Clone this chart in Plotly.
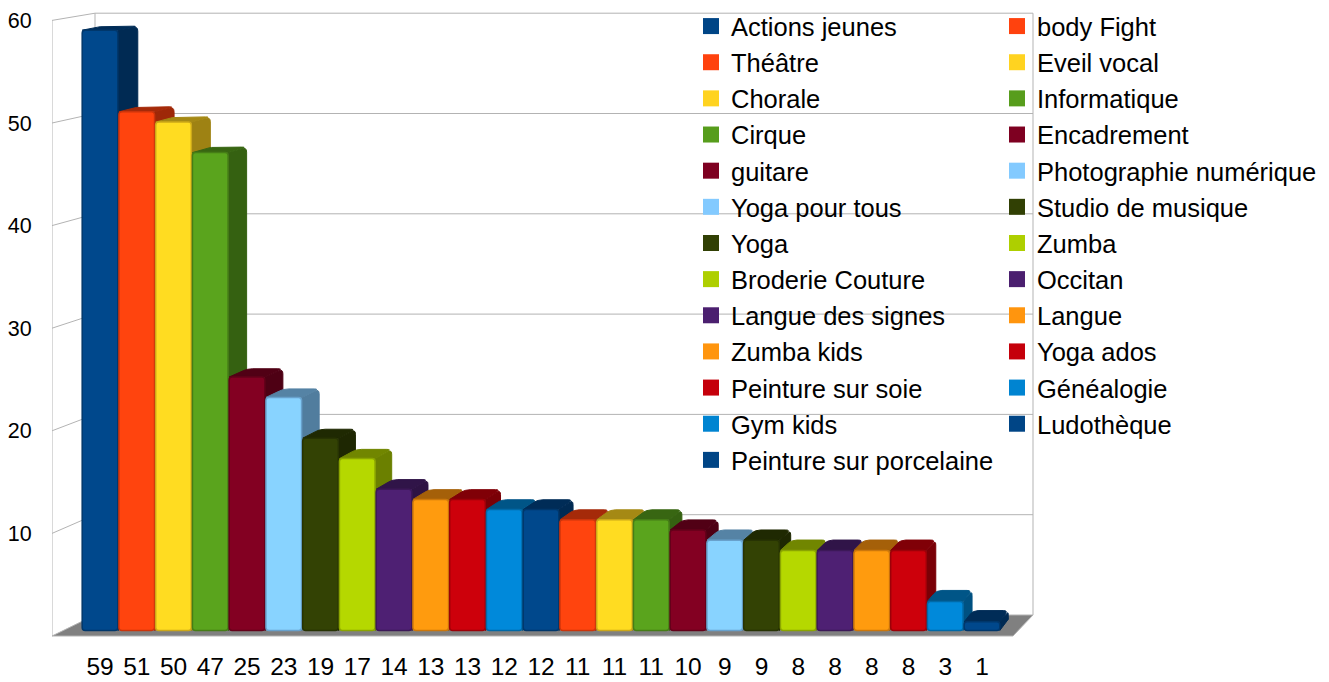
import plotly.graph_objects as go

categories = ["Actions jeunes", "Théâtre", "Chorale", "Cirque", "guitare", "Yoga pour tous", "Yoga",
              "Broderie Couture", "Langue des signes", "Zumba kids", "Peinture sur soie", "Gym kids",
              "Peinture sur porcelaine", "body Fight", "Eveil vocal", "Informatique", "Encadrement",
              "Photographie numérique", "Studio de musique", "Zumba", "Occitan", "Langue", "Yoga ados",
              "Généalogie", "Ludothèque"]
values = [59, 51, 50, 47, 25, 23, 19, 17, 14, 13, 13, 12, 12, 11, 11, 11, 10, 9, 9, 8, 8, 8, 8, 3, 1]
colors = ["#004586", "#ff420e", "#ffd320", "#579d1c", "#7e0021", "#83caff", "#314004", "#aecf00",
          "#4b1f6f", "#ff950e", "#c5000b", "#0084d1", "#004586", "#ff420e", "#ffd320", "#579d1c",
          "#7e0021", "#83caff", "#314004", "#aecf00", "#4b1f6f", "#ff950e", "#c5000b", "#0084d1", "#004586"]
wall_ticks = [10, 20, 30, 40, 50, 60]
LEFT_COLUMN = 13

W, H = 1329, 682
ML, MB = 52, 40
PH = H - MB
PW = W - ML
PITCH = 36.75
X0 = 100.0
WALL_SCALE, WALL_ZERO = 10.26, 636.0
BACK_SCALE, BACK_ZERO = 10.03, 615.0
BAR_SCALE, BAR_ZERO = 10.2, 632.0
BAR_FOOT = 0.15
BAR_WIDTH = 0.97
VX, VY = 1654.0, -298.0
KX, KY = 0.013, 0.0122
GRID = "#b3b3b3"

xrange_ = [(ML - X0) / PITCH, (W - X0) / PITCH]
wall_range = [(WALL_ZERO - PH) / WALL_SCALE, WALL_ZERO / WALL_SCALE]
bar_range = [(BAR_ZERO - PH) / BAR_SCALE, BAR_ZERO / BAR_SCALE]


def shade(hex_color, f):
    r, g, b = (int(hex_color[k:k + 2], 16) for k in (1, 3, 5))
    return f"rgb({min(int(r * f), 255)},{min(int(g * f), 255)},{min(int(b * f), 255)})"


def back(i, v):
    """Project a front point of a bar (axis units) to the back of the bar."""
    px = X0 + PITCH * i
    py = BAR_ZERO - BAR_SCALE * v
    return i + KX * (VX - px) / PITCH, v + KY * (py - VY) / BAR_SCALE


def rounded(points, corners, r=5.0):
    """Close a polygon in axis units, rounding the listed corners by about r pixels."""
    out = []
    n = len(points)
    for k, (x, y) in enumerate(points):
        if k not in corners:
            out.append((x, y))
            continue
        pts = []
        for other in (points[k - 1], points[(k + 1) % n]):
            dx = (other[0] - x) * PITCH
            dy = (other[1] - y) * BAR_SCALE
            d = max((dx * dx + dy * dy) ** 0.5, 1e-6)
            t = min(r / d, 0.5)
            pts.append((x + (other[0] - x) * t, y + (other[1] - y) * t))
        for t in (0, 0.25, 0.5, 0.75, 1):
            a, b, c = (1 - t) ** 2, 2 * t * (1 - t), t * t
            out.append((a * pts[0][0] + b * x + c * pts[1][0], a * pts[0][1] + b * y + c * pts[1][1]))
    out.append(out[0])
    return [p[0] for p in out], [p[1] for p in out]


def wx(px):
    return (px - X0) / PITCH


def wy(py):
    return (WALL_ZERO - py) / WALL_SCALE


def back_y(v):
    return wy(BACK_ZERO - BACK_SCALE * v)


fig = go.Figure()


def wall_line(xs, ys, color=GRID, width=1):
    fig.add_trace(go.Scatter(x=xs, y=ys, mode="lines", line=dict(color=color, width=width), yaxis="y",
                             showlegend=False, hoverinfo="skip", cliponaxis=False))


# floor
fig.add_trace(go.Scatter(x=[wx(52), wx(1013), wx(1033), wx(95), wx(52)],
                         y=[0, 0, back_y(0), back_y(0), 0], mode="lines", fill="toself",
                         fillcolor="#808080", line=dict(color="#b3b3b3", width=1), yaxis="y",
                         showlegend=False, hoverinfo="skip", cliponaxis=False))
# walls
top = max(wall_ticks)
wall_line([wx(52), wx(52)], [0, top])
wall_line([wx(95), wx(95)], [back_y(0), back_y(top)])
wall_line([wx(1033), wx(1033)], [back_y(0), back_y(top)])
for t in wall_ticks:
    wall_line([wx(52), wx(95), wx(1033)], [t, back_y(t), back_y(t)])

# side and top faces, left to right
for i, (v, c) in enumerate(zip(values, colors)):
    xl, xr = i - BAR_WIDTH / 2, i + BAR_WIDTH / 2
    bxr, byt = back(xr, v)
    bxl, _ = back(xl, v)
    bxb, byb = back(xr, BAR_FOOT)
    sx, sy = rounded([(xr, v), (bxr, byt), (bxb, byb), (xr, BAR_FOOT)], {1})
    fig.add_trace(go.Scatter(x=sx, y=sy, mode="lines", fill="toself", fillcolor=shade(c, 0.62),
                             line=dict(color=shade(c, 0.62), width=1), yaxis="y2",
                             showlegend=False, hoverinfo="skip", cliponaxis=False))
    tx, ty = rounded([(xl, v), (xr, v), (bxr, byt), (bxl, byt)], {2, 3})
    fig.add_trace(go.Scatter(x=tx, y=ty, mode="lines", fill="toself", fillcolor=shade(c, 0.65),
                             line=dict(color=shade(c, 0.65), width=1), yaxis="y2",
                             showlegend=False, hoverinfo="skip", cliponaxis=False))

# front faces
for i, (v, c, name) in enumerate(zip(values, colors, categories)):
    fig.add_trace(go.Bar(x=[i], y=[v - BAR_FOOT], base=BAR_FOOT, width=BAR_WIDTH, name=name, yaxis="y3",
                         showlegend=False,
                         marker=dict(color=shade(c, 1.045), cornerradius=3,
                                     line=dict(color=shade(c, 0.8), width=1.5)),
                         hovertemplate=f"{name}: {v}<extra></extra>"))

# legend entries
for i, (c, name) in enumerate(zip(colors, categories)):
    fig.add_trace(go.Scatter(x=[None], y=[None], mode="markers", name=name, yaxis="y",
                             legend="legend" if i < LEFT_COLUMN else "legend2",
                             marker=dict(symbol="square", size=16, color=c, line=dict(width=0))))

legend_common = dict(bgcolor="rgba(0,0,0,0)", borderwidth=0,
                     yanchor="top", xanchor="left", itemclick=False, itemdoubleclick=False,
                     font=dict(family="Liberation Sans", size=25.5, color="#000000"))

fig.update_layout(
    width=W, height=H, autosize=False,
    margin=dict(l=ML, r=0, t=0, b=MB, pad=0),
    paper_bgcolor="white", plot_bgcolor="rgba(0,0,0,0)",
    barmode="overlay", showlegend=True,
    font=dict(family="Liberation Sans", color="#000000"),
    xaxis=dict(range=xrange_, tickmode="array", tickvals=list(range(len(values))),
               ticktext=[str(v) for v in values], showgrid=False, zeroline=False, showline=False,
               ticks="outside", ticklen=3, tickcolor="rgba(0,0,0,0)", tickangle=0, automargin=False,
               tickfont=dict(size=24.5, family="Liberation Sans", color="#000000")),
    yaxis=dict(range=wall_range, tickmode="array", tickvals=wall_ticks, showgrid=False, zeroline=False,
               showline=False, ticks="outside", ticklen=15, tickcolor="rgba(0,0,0,0)", automargin=False,
               tickfont=dict(size=21.5, family="Liberation Sans", color="#000000")),
    yaxis2=dict(range=bar_range, overlaying="y", visible=False),
    yaxis3=dict(range=bar_range, overlaying="y", visible=False),
    legend=dict(x=(691 - ML) / PW, y=1 - 3 / PH, **legend_common),
    legend2=dict(x=(997 - ML) / PW, y=1 - 3 / PH, **legend_common),
)
fig.write_html("out.html", config=dict(displayModeBar=False),
               post_script="document.body.style.margin='0';document.documentElement.style.overflow='hidden';")
